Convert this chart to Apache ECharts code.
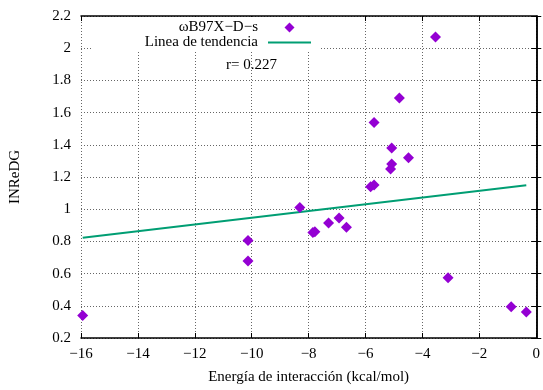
<!DOCTYPE html>
<html>
<head>
<meta charset="utf-8">
<script src="https://cdn.jsdelivr.net/npm/echarts@6/dist/echarts.min.js"></script>
<style>html,body{margin:0;padding:0;background:#fff;}#c{width:543px;height:390px;}</style>
</head>
<body>
<div id="c"></div>
<script>
// ---- data ----
const seriesName = 'ωB97X−D−s';
const trendName = 'Linea de tendencia';
const rLabel = 'r= 0.227';
const xTitle = 'Energía de interacción (kcal/mol)';
const yTitle = 'INReDG';
const energy = [-15.94, -10.13, -10.13, -8.31, -7.85, -7.78, -7.30, -6.93, -6.67, -5.82, -5.70, -5.70, -5.08, -5.08, -5.12, -4.81, -4.49, -3.54, -3.10, -0.88, -0.35];
const inredg = [0.34, 0.806, 0.679, 1.01, 0.855, 0.86, 0.914, 0.945, 0.888, 1.14, 1.15, 1.539, 1.38, 1.28, 1.249, 1.69, 1.32, 2.07, 0.575, 0.394, 0.361];
const trendX = [-15.94, -0.35];
const trendY = [0.823, 1.149];
const xMin = -16, xMax = 0, xStep = 2;
const yMin = 0.2, yMax = 2.2, yStep = 0.2;

const points = energy.map((x, i) => [x, inredg[i]]);
const trend = trendX.map((x, i) => [x, trendY[i]]);

const FONT = '"Liberation Serif", "DejaVu Serif", serif';
const fmtMinus = v => String(+v.toFixed(2)).replace('-', '−');

const chart = echarts.init(document.getElementById('c'), null, {renderer: 'canvas'});
const baseX = {
  type: 'value', min: xMin, max: xMax, interval: xStep,
  axisLine: {show: true, lineStyle: {color: '#000', width: 1.5}},
  axisTick: {show: true, inside: true, length: 5, lineStyle: {color: '#000'}},
};
const baseY = {
  type: 'value', min: yMin, max: yMax, interval: yStep,
  axisLine: {show: true, lineStyle: {color: '#000', width: 1.5}},
  axisTick: {show: true, inside: true, length: 5, lineStyle: {color: '#000'}},
};
chart.setOption({
  animation: false,
  backgroundColor: '#fff',
  grid: {left: 80, right: 3, top: 16, bottom: 48, containLabel: false},
  xAxis: [
    Object.assign({}, baseX, {
      position: 'bottom',
      name: xTitle, nameLocation: 'middle', nameGap: 32,
      nameTextStyle: {fontFamily: FONT, fontSize: 15, color: '#000'},
      axisLabel: {margin: 9, fontFamily: FONT, fontSize: 15, color: '#000', formatter: fmtMinus},
      splitLine: {show: true, lineStyle: {color: '#666', type: [1, 2], width: 1}}
    }),
    Object.assign({}, baseX, {
      position: 'top', axisLabel: {show: false}, splitLine: {show: false}
    })
  ],
  yAxis: [
    Object.assign({}, baseY, {
      position: 'left',
      name: yTitle, nameLocation: 'middle', nameGap: 58, nameRotate: 90,
      nameTextStyle: {fontFamily: FONT, fontSize: 15, color: '#000'},
      axisLabel: {margin: 10, fontFamily: FONT, fontSize: 15, color: '#000', formatter: fmtMinus},
      splitLine: {show: true, lineStyle: {color: '#666', type: [1, 2], width: 1}}
    }),
    Object.assign({}, baseY, {
      position: 'right', axisLabel: {show: false}, splitLine: {show: false}
    })
  ],
  legend: {
    orient: 'vertical', align: 'right',
    right: 223, top: 17,
    padding: [3, 9, 0, 52],
    backgroundColor: '#fff',
    symbolKeepAspect: true,
    itemWidth: 43, itemHeight: 10, itemGap: 0,
    textStyle: {fontFamily: FONT, fontSize: 15, color: '#000', padding: [0, 5, 0, 0]},
    data: [
      {name: seriesName, icon: 'path://M5,0L10,5L5,10L0,5Z', itemStyle: {color: '#9400d3', opacity: 1}},
      {name: trendName, icon: 'path://M0,0L43,0L43,2L0,2Z', itemStyle: {color: '#009e73'}}
    ]
  },
  graphic: [{
    type: 'text', x: 277, y: 65,
    style: {text: rLabel, align: 'right', verticalAlign: 'middle', font: '15px ' + FONT, fill: '#000'}
  }],
  series: [
    {
      name: seriesName, type: 'scatter', symbol: 'diamond', symbolSize: 11,
      itemStyle: {color: '#9400d3', opacity: 1}, data: points, z: 3
    },
    {
      name: trendName, type: 'line', symbol: 'none', showSymbol: false,
      lineStyle: {color: '#009e73', width: 2}, itemStyle: {color: '#009e73'}, data: trend, z: 2
    }
  ]
});
</script>
</body>
</html>
